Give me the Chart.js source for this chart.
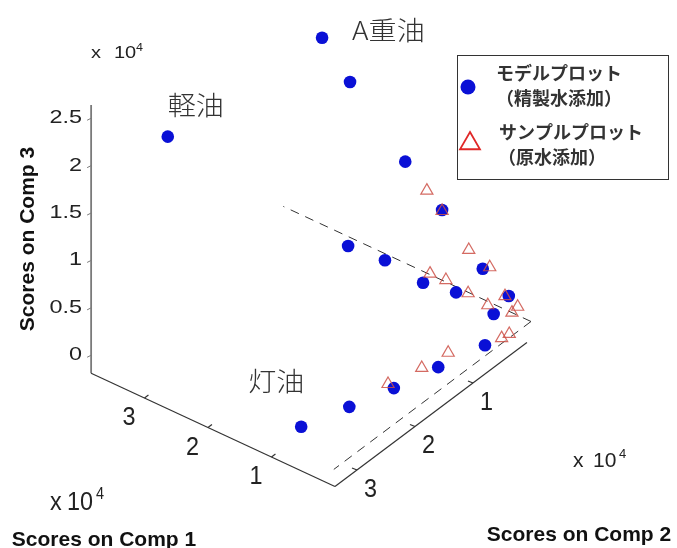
<!DOCTYPE html>
<html>
<head>
<meta charset="utf-8">
<script src="https://cdn.jsdelivr.net/npm/chart.js@4.4.0/dist/chart.umd.min.js"></script>
<style>
  html, body { margin: 0; padding: 0; background: #fff; }
  canvas { display: block; }
</style>
</head>
<body>
<canvas id="scoreChart" width="677" height="548"></canvas>
<script>
// Scores (x 10^4) - modèle (精製水添加)
const modelComp1 = [5.72, 2.88, 2.30, 1.70, 1.18, 3.29, 2.85, 1.98, 1.40, 0.76, 0.87, 0.66, 0.47, 0.31, 0.14, 0.35, 0.46];
const modelComp2 = [0, 0, 0, 0, 0, 0, 0, 0, 0, 0, 3.01, 2.41, 1.85, 1.26, 0.64, 0, 0.14];
const modelComp3 = [0.17, -0.10, -0.07, -0.12, -0.06, 1.97, 1.64, 1.07, 0.74, 0.32, 0, 0, 0, 0, 0, 0.16, 0];

// Scores (x 10^4) - échantillons (原水添加)
const sampleComp1 = [1.64, 1.40, 0.98, 0.65, 1.59, 1.34, 0.99, 0.68, 0.41, 0.21, 0.30, 0.05, 0.07, 0.40, 0.46, 0.58];
const sampleComp2 = [0, 0, 0, 0, 0, 0, 0, 0, 0, 0, 0, 0.32, 0.43, 0.99, 1.38, 1.83];
const sampleComp3 = [0.87, 0.73, 0.45, 0.37, 0.01, 0.02, -0.01, -0.04, 0.14, 0.09, 0.00, 0, 0, 0, 0, 0];

// Axes
const comp1Range = [0, 3.84];
const comp2Range = [0.07, 3.38];
const comp3Range = [-0.19, 2.64];
const comp1Ticks = [1, 2, 3];
const comp2Ticks = [1, 2, 3];
const comp3Ticks = [0, 0.5, 1, 1.5, 2, 2.5];
const comp3TickLabels = ['0', '0.5', '1', '1.5', '2', '2.5'];

// Lignes zéro (pointillés)
const zeroLineComp1 = [0, 3.9];
const zeroLineComp2 = [0, 3.4];

// Libellés
const oilNames = ['軽油', 'A重油', '灯油'];
const oilIndex = [0, 5, 10];
const legendLines = [['モデルプロット', '（精製水添加）'], ['サンプルプロット', '（原水添加）']];
const axisTitles = ['Scores on Comp 1', 'Scores on Comp 2', 'Scores on Comp 3'];

// Projection 3D -> plan (vue oblique type MATLAB)
const view = { c1: [-0.635, 0.295], c2: [-0.58, -0.435], c3: [0, 0.948] };
function project(a, b, c) {
    return {
        x: view.c1[0] * a + view.c2[0] * b + view.c3[0] * c,
        y: view.c1[1] * a + view.c2[1] * b + view.c3[1] * c
    };
}

const modelPoints = modelComp1.map((v, i) => project(v, modelComp2[i], modelComp3[i]));
const samplePoints = sampleComp1.map((v, i) => project(v, sampleComp2[i], sampleComp3[i]));
const zeroLine1 = zeroLineComp1.map(v => project(v, 0, 0));
const zeroLine2 = zeroLineComp2.map(v => project(0, v, 0));

const BLUE = '#0a10d6';
const RED = 'rgba(205, 80, 70, 0.85)';

function drawText(ctx, s, x, y, font, align, base, sx, color) {
    ctx.save();
    ctx.translate(x, y);
    ctx.scale(sx || 1, 1);
    ctx.font = font;
    ctx.textAlign = align;
    ctx.textBaseline = base;
    ctx.fillStyle = color || '#222';
    ctx.fillText(s, 0, 0);
    ctx.restore();
}

// "x 10^4"
function drawExponent(ctx, x, xTen, xFour, base, size, sx) {
    const f = size + 'px "Liberation Sans", Arial, sans-serif';
    drawText(ctx, 'x', x, base, f, 'left', 'alphabetic', sx);
    drawText(ctx, '10', xTen, base, f, 'left', 'alphabetic', sx);
    drawText(ctx, '4', xFour, base - size * 0.42, Math.round(size * 0.6) + 'px "Liberation Sans", Arial, sans-serif', 'left', 'alphabetic', sx);
}

const box3d = {
    id: 'box3d',
    beforeDatasetsDraw(chart) {
        const ctx = chart.ctx;
        const P = (a, b, c) => {
            const p = project(a, b, c);
            return [chart.scales.x.getPixelForValue(p.x), chart.scales.y.getPixelForValue(p.y)];
        };
        const line = (p, q) => { ctx.beginPath(); ctx.moveTo(p[0], p[1]); ctx.lineTo(q[0], q[1]); ctx.stroke(); };
        const [a0, a1] = comp1Range, [b0, b1] = comp2Range, [c0, c1] = comp3Range;

        ctx.save();
        // axe vertical (Comp 3)
        ctx.strokeStyle = '#7a7a7a';
        ctx.lineWidth = 1.8;
        line(P(a1, b1, c0), P(a1, b1, c1));
        ctx.lineWidth = 1;
        comp3Ticks.forEach((t, i) => {
            const p = P(a1, b1, t);
            line(p, [p[0] - 4, p[1] + 2]);
            drawText(ctx, comp3TickLabels[i], p[0] - 9, p[1], '18px "Liberation Sans", Arial, sans-serif', 'right', 'middle', 1.3);
        });

        // axes horizontaux (Comp 1 / Comp 2)
        ctx.strokeStyle = '#333';
        ctx.lineWidth = 1.2;
        line(P(a0, b1, c0), P(a1, b1, c0));
        line(P(a0, b0, c0), P(a0, b1, c0));
        comp1Ticks.forEach(t => {
            const p = P(t, b1, c0);
            line(p, [p[0] + 4, p[1] - 3]);
            drawText(ctx, String(t), p[0] - 15.5, p[1] + 20, '26px "Liberation Sans", Arial, sans-serif', 'center', 'middle', 0.9);
        });
        comp2Ticks.forEach(t => {
            const p = P(a0, t, c0);
            line(p, [p[0] - 5, p[1] - 2]);
            drawText(ctx, String(t), p[0] + 13.5, p[1] + 19.5, '26px "Liberation Sans", Arial, sans-serif', 'center', 'middle', 0.9);
        });
        ctx.restore();
    },
    afterDraw(chart) {
        const ctx = chart.ctx;
        const sx = chart.scales.x, sy = chart.scales.y;
        const at = i => [sx.getPixelForValue(modelPoints[i].x), sy.getPixelForValue(modelPoints[i].y)];

        // Noms des huiles
        const offsets = [[0, -32], [30, -8], [-53, -46]];
        oilNames.forEach((name, k) => {
            const p = at(oilIndex[k]);
            drawText(ctx, name, p[0] + offsets[k][0], p[1] + offsets[k][1], '300 26px "Noto Sans CJK JP", sans-serif', 'left', 'middle', 1.08, '#333');
        });

        // Exposants
        drawExponent(ctx, 91, 114, 136, 58, 16, 1.25);
        drawExponent(ctx, 50, 67, 96, 510, 26, 0.9);
        drawExponent(ctx, 573, 593, 619, 467, 21, 1.0);

        // Titres des axes
        const bold = 'bold 21px "Liberation Sans", Arial, sans-serif';
        drawText(ctx, axisTitles[0], 104, 546, bold, 'center', 'alphabetic', 1, '#111');
        drawText(ctx, axisTitles[1], 579, 541, bold, 'center', 'alphabetic', 1, '#111');
        ctx.save();
        ctx.translate(34, 239);
        ctx.rotate(-Math.PI / 2);
        drawText(ctx, axisTitles[2], 0, 0, bold, 'center', 'alphabetic', 1, '#111');
        ctx.restore();

        // Légende
        ctx.save();
        ctx.fillStyle = '#fff';
        ctx.fillRect(457, 55, 211, 124);
        ctx.strokeStyle = '#333';
        ctx.lineWidth = 1;
        ctx.strokeRect(457.5, 55.5, 211, 124);
        ctx.fillStyle = BLUE;
        ctx.beginPath(); ctx.arc(468, 87, 7.5, 0, Math.PI * 2); ctx.fill();
        ctx.strokeStyle = '#e02828';
        ctx.fillStyle = 'rgba(0,0,0,0)';
        ctx.lineWidth = 1.8;
        Chart.helpers.drawPoint(ctx, { pointStyle: 'triangle', radius: 11.5, borderWidth: 1.8 }, 470, 143.5);
        ctx.restore();
        const lf = 'bold 18px "Noto Sans CJK JP", sans-serif';
        drawText(ctx, legendLines[0][0], 496, 73.5, lf, 'left', 'middle', 1, '#333');
        drawText(ctx, legendLines[0][1], 496, 98.5, lf, 'left', 'middle', 1, '#333');
        drawText(ctx, legendLines[1][0], 499, 132, lf, 'left', 'middle', 1, '#333');
        drawText(ctx, legendLines[1][1], 498, 157, lf, 'left', 'middle', 1, '#333');
    }
};

new Chart(document.getElementById('scoreChart'), {
    type: 'scatter',
    data: {
        datasets: [
            {
                label: 'サンプルプロット（原水添加）',
                data: samplePoints,
                pointStyle: 'triangle',
                pointRadius: 7,
                borderColor: RED,
                backgroundColor: 'rgba(255,255,255,0)',
                borderWidth: 1.2,
                order: 1
            },
            {
                label: 'モデルプロット（精製水添加）',
                data: modelPoints,
                pointStyle: 'circle',
                pointRadius: 6.3,
                borderWidth: 0,
                backgroundColor: BLUE,
                order: 2
            },
            {
                type: 'line',
                data: zeroLine1,
                borderColor: '#333',
                borderWidth: 1,
                borderDash: [9, 7],
                pointRadius: 0,
                order: 3
            },
            {
                type: 'line',
                data: zeroLine2,
                borderColor: '#333',
                borderWidth: 1,
                borderDash: [9, 7],
                pointRadius: 0,
                order: 3
            }
        ]
    },
    options: {
        responsive: false,
        animation: false,
        layout: { padding: 0, autoPadding: false },
        plugins: { legend: { display: false }, tooltip: { enabled: false } },
        scales: {
            x: { type: 'linear', min: -5.31, max: 1.46, display: false },
            y: { type: 'linear', min: -2.265, max: 3.215, display: false }
        }
    },
    plugins: [box3d]
});
</script>
</body>
</html>
